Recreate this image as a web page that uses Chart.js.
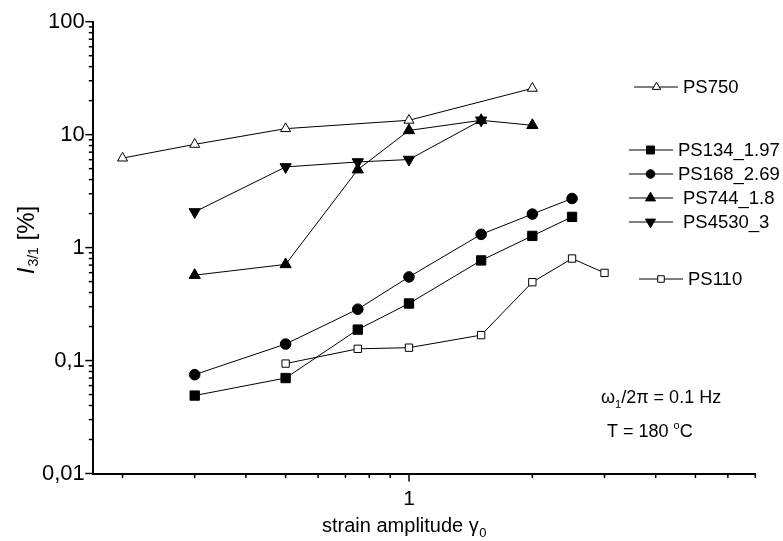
<!DOCTYPE html>
<html>
<head>
<meta charset="utf-8">
<script src="https://cdn.jsdelivr.net/npm/chart.js@4.4.1/dist/chart.umd.min.js"></script>
<style>
  html, body { margin: 0; padding: 0; background: #fff; }
  #wrap { width: 783px; height: 541px; }
</style>
</head>
<body>
<div id="wrap"><canvas id="c" width="783" height="541"></canvas></div>
<script>
// ---- data ----
const ps750X   = [0.2, 0.3, 0.5, 1, 2];
const ps750Y   = [6.2, 8.2, 11.3, 13.4, 25.7];
const ps134X   = [0.3, 0.5, 0.75, 1, 1.5, 2, 2.5];
const ps134Y   = [0.049, 0.070, 0.188, 0.32, 0.77, 1.27, 1.87];
const ps168X   = [0.3, 0.5, 0.75, 1, 1.5, 2, 2.5];
const ps168Y   = [0.075, 0.14, 0.285, 0.55, 1.31, 1.98, 2.72];
const ps744X   = [0.3, 0.5, 0.75, 1, 1.5, 2];
const ps744Y   = [0.57, 0.71, 4.9, 10.9, 13.4, 12.1];
const ps4530X  = [0.3, 0.5, 0.75, 1, 1.5];
const ps4530Y  = [2.07, 5.18, 5.73, 6.02, 13.4];
const ps110X   = [0.5, 0.75, 1, 1.5, 2, 2.5, 3];
const ps110Y   = [0.094, 0.127, 0.13, 0.168, 0.494, 0.80, 0.597];

const seriesNames = ['PS750', 'PS134_1.97', 'PS168_2.69', 'PS744_1.8', 'PS4530_3', 'PS110'];

const xMajorTicks = [1];
const xMajorLabels = ['1'];
const xMinorTicks = [0.2, 0.3, 0.4, 0.5, 0.6, 0.7, 0.8, 0.9, 2, 3, 4, 5, 6, 7];
const yMajorTicks = [0.01, 0.1, 1, 10, 100];
const yMajorLabels = ['0,01', '0,1', '1', '10', '100'];
const yMinorTicks = [];
[0.01, 0.1, 1, 10].forEach(d => { for (let k = 2; k <= 9; k++) yMinorTicks.push(+(d * k).toPrecision(3)); });

const xTitle = 'strain amplitude γ';
const xTitleSub = '0';
const yTitleMain = 'I';
const yTitleSub = '3/1';
const yTitleRest = ' [%]';

const FONT = '"Liberation Sans", Arial, Helvetica, sans-serif';

function pts(xs, ys) { return xs.map((x, i) => ({ x: x, y: ys[i] })); }

const styles = [
  { pointStyle: 'triangle', radius: 5.8, bg: '#fff', rot: 0 },
  { pointStyle: 'rect', radius: 6.6, bg: '#000', rot: 0 },
  { pointStyle: 'circle', radius: 5.3, bg: '#000', rot: 0 },
  { pointStyle: 'triangle', radius: 6.5, bg: '#000', rot: 0 },
  { pointStyle: 'triangle', radius: 6.5, bg: '#000', rot: 180 },
  { pointStyle: 'rect', radius: 5.2, bg: '#fff', rot: 0 }
];
const seriesData = [
  pts(ps750X, ps750Y), pts(ps134X, ps134Y), pts(ps168X, ps168Y),
  pts(ps744X, ps744Y), pts(ps4530X, ps4530Y), pts(ps110X, ps110Y)
];

const datasets = seriesNames.map((name, i) => ({
  label: name,
  data: seriesData[i],
  showLine: true,
  borderColor: '#000',
  borderWidth: 1,
  tension: 0,
  pointStyle: styles[i].pointStyle,
  pointRadius: styles[i].radius,
  pointHoverRadius: styles[i].radius,
  pointRotation: styles[i].rot,
  pointBackgroundColor: styles[i].bg,
  pointBorderColor: '#000',
  pointBorderWidth: 1
}));

// legend layout (marker centre x, y, line start/end, text x)
const legendLayout = [
  { lx1: 634, lx2: 678, mx: 656.5, y: 87, tx: 683, r: 4.8 },
  { lx1: 629, lx2: 673, mx: 650.5, y: 150, tx: 678, r: 5.6 },
  { lx1: 629, lx2: 673, mx: 650.5, y: 174, tx: 678, r: 4.3 },
  { lx1: 629, lx2: 673, mx: 650.5, y: 198, tx: 683, r: 5.8 },
  { lx1: 629, lx2: 673, mx: 650.5, y: 222, tx: 683, r: 5.8 },
  { lx1: 639, lx2: 683, mx: 661, y: 279, tx: 688, r: 4.6 }
];

const decorPlugin = {
  id: 'decor',
  afterDraw(chart) {
    const ctx = chart.ctx;
    const xs = chart.scales.x, ys = chart.scales.y;
    const bottom = xs.top, left = ys.right;
    ctx.save();
    ctx.strokeStyle = '#000';
    ctx.lineWidth = 1.5;
    // x ticks
    xMajorTicks.forEach(v => { const p = xs.getPixelForValue(v); ctx.beginPath(); ctx.moveTo(p, bottom); ctx.lineTo(p, bottom + 8); ctx.stroke(); });
    xMinorTicks.forEach(v => { const p = xs.getPixelForValue(v); ctx.beginPath(); ctx.moveTo(p, bottom); ctx.lineTo(p, bottom + 4.5); ctx.stroke(); });
    // y ticks
    yMajorTicks.forEach(v => { const p = ys.getPixelForValue(v); ctx.beginPath(); ctx.moveTo(left - 8, p); ctx.lineTo(left, p); ctx.stroke(); });
    yMinorTicks.forEach(v => { const p = ys.getPixelForValue(v); ctx.beginPath(); ctx.moveTo(left - 4.5, p); ctx.lineTo(left, p); ctx.stroke(); });

    ctx.fillStyle = '#000';
    ctx.textBaseline = 'alphabetic';
    // x title
    ctx.font = '20px ' + FONT;
    const w1 = ctx.measureText(xTitle).width;
    ctx.font = '13px ' + FONT;
    const w2 = ctx.measureText(xTitleSub).width;
    const x0 = 404 - (w1 + w2) / 2;
    ctx.font = '20px ' + FONT;
    ctx.textAlign = 'left';
    ctx.fillText(xTitle, x0, 532);
    ctx.font = '13px ' + FONT;
    ctx.fillText(xTitleSub, x0 + w1 + 0.5, 537);

    // y title (rotated)
    ctx.save();
    ctx.translate(34, 240.5);
    ctx.rotate(-Math.PI / 2);
    ctx.font = 'italic 24px ' + FONT;
    const a = ctx.measureText(yTitleMain).width;
    ctx.font = '14px ' + FONT;
    const b = ctx.measureText(yTitleSub).width;
    ctx.font = '24px ' + FONT;
    const c = ctx.measureText(yTitleRest).width;
    let tx = -(a + b + c) / 2;
    ctx.font = 'italic 24px ' + FONT;
    ctx.fillText(yTitleMain, tx, 0);
    tx += a + 1;
    ctx.font = '14px ' + FONT;
    ctx.fillText(yTitleSub, tx, 4);
    tx += b;
    ctx.font = '24px ' + FONT;
    ctx.fillText(yTitleRest, tx, 0);
    ctx.restore();

    // annotations
    ctx.font = '18px ' + FONT;
    let ax = 601;
    ctx.fillText('ω', ax, 403);
    ax += ctx.measureText('ω').width;
    ctx.font = '11px ' + FONT;
    ctx.fillText('1', ax, 408);
    ax += ctx.measureText('1').width;
    ctx.font = '18px ' + FONT;
    ctx.fillText('/2π = 0.1 Hz', ax, 403);

    let bx = 607;
    ctx.fillText('T = 180 ', bx, 437);
    bx += ctx.measureText('T = 180 ').width;
    ctx.font = '11px ' + FONT;
    ctx.fillText('o', bx, 429);
    bx += ctx.measureText('o').width;
    ctx.font = '18px ' + FONT;
    ctx.fillText('C', bx, 437);

    // legend
    ctx.font = '18.5px ' + FONT;
    ctx.textBaseline = 'middle';
    seriesNames.forEach((name, i) => {
      const L = legendLayout[i];
      ctx.strokeStyle = '#000';
      ctx.lineWidth = 1;
      ctx.beginPath(); ctx.moveTo(L.lx1, L.y); ctx.lineTo(L.lx2, L.y); ctx.stroke();
      ctx.fillStyle = styles[i].bg;
      Chart.helpers.drawPoint(ctx, { pointStyle: styles[i].pointStyle, radius: L.r, rotation: styles[i].rot, borderWidth: 1 }, L.mx, L.y);
      ctx.fillStyle = '#000';
      ctx.fillText(name, L.tx, L.y + 1);
    });
    ctx.restore();
  }
};

new Chart(document.getElementById('c'), {
  type: 'scatter',
  data: { datasets: datasets },
  options: {
    responsive: false,
    devicePixelRatio: 1,
    animation: false,
    events: [],
    layout: { padding: { left: 0, right: 27.7, top: 21, bottom: 0 } },
    plugins: { legend: { display: false }, tooltip: { enabled: false }, title: { display: false } },
    scales: {
      x: {
        type: 'logarithmic',
        position: 'bottom',
        min: 0.1697,
        max: 7,
        bounds: 'data',
        border: { display: true, color: '#000', width: 2 },
        grid: { display: false, drawTicks: false },
        afterBuildTicks: s => { s.ticks = xMajorTicks.map(v => ({ value: v })); },
        afterFit: s => { s.height = 67.5; },
        ticks: {
          autoSkip: false, maxRotation: 0, padding: 13,
          color: '#000', font: { family: FONT, size: 21 },
          callback: (v) => { const i = xMajorTicks.indexOf(v); return i >= 0 ? xMajorLabels[i] : ''; }
        }
      },
      y: {
        type: 'logarithmic',
        position: 'left',
        min: 0.01,
        max: 100,
        bounds: 'data',
        border: { display: true, color: '#000', width: 2 },
        grid: { display: false, drawTicks: false },
        afterBuildTicks: s => { s.ticks = yMajorTicks.map(v => ({ value: v })); },
        afterFit: s => { s.width = 93.3; },
        ticks: {
          autoSkip: false, padding: 8.5,
          color: '#000', font: { family: FONT, size: 22 },
          callback: (v) => { const i = yMajorTicks.indexOf(v); return i >= 0 ? yMajorLabels[i] : ''; }
        }
      }
    }
  },
  plugins: [decorPlugin]
});
</script>
</body>
</html>
